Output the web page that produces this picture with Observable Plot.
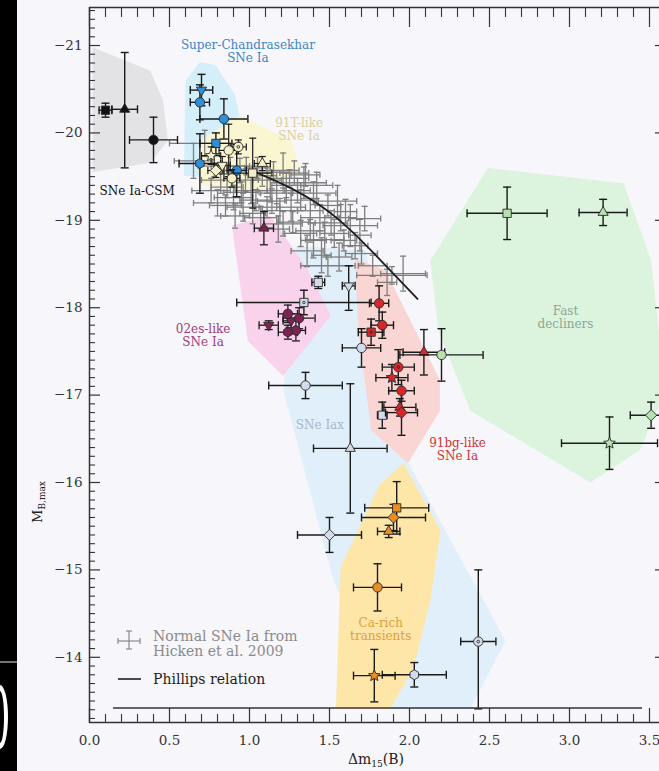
<!DOCTYPE html>
<html><head><meta charset="utf-8">
<script src="https://cdn.jsdelivr.net/npm/d3@7"></script>
<script src="https://cdn.jsdelivr.net/npm/@observablehq/plot@0.6"></script>
<style>
html,body{margin:0;padding:0;background:#f7f6fb;overflow:hidden;width:659px;height:771px;}
#chart{position:absolute;left:0;top:0;width:680px;}
#chart svg{max-width:none !important;}
#band{position:absolute;left:0;top:0;width:17px;height:771px;}
</style></head><body>
<div id="chart"></div>
<svg id="band" width="17" height="771"><rect width="17" height="771" fill="#000"/><line x1="0" x2="17" y1="662" y2="662" stroke="#999" stroke-width="1.5"/><ellipse cx="0" cy="717" rx="8" ry="32" fill="#fff"/><ellipse cx="0" cy="717" rx="4" ry="26" fill="#000"/></svg>
<script>
// ---------- data ----------
const xMajor = [0.0, 0.5, 1.0, 1.5, 2.0, 2.5, 3.0, 3.5];
const yMajor = [-21, -20, -19, -18, -17, -16, -15, -14];

const normalIa = [
 {x:1.21,y:-19.57,dx:0.10,dy:0.20},{x:1.34,y:-19.43,dx:0.14,dy:0.18},{x:1.40,y:-19.31,dx:0.14,dy:0.13},
 {x:1.49,y:-19.17,dx:0.08,dy:0.12},{x:1.63,y:-18.94,dx:0.17,dy:0.24},{x:1.57,y:-19.03,dx:0.10,dy:0.15},
 {x:1.69,y:-18.83,dx:0.07,dy:0.18},{x:1.40,y:-18.77,dx:0.08,dy:0.20},{x:1.32,y:-18.85,dx:0.10,dy:0.15},
 {x:1.49,y:-18.48,dx:0.17,dy:0.12},{x:1.77,y:-18.48,dx:0.09,dy:0.12},{x:1.96,y:-18.39,dx:0.14,dy:0.20},
 {x:1.86,y:-18.29,dx:0.06,dy:0.15},{x:1.21,y:-18.96,dx:0.12,dy:0.14},{x:1.11,y:-19.15,dx:0.08,dy:0.12},
 {x:1.01,y:-19.34,dx:0.10,dy:0.15},{x:0.90,y:-19.26,dx:0.12,dy:0.14},{x:0.80,y:-19.20,dx:0.15,dy:0.15},
 {x:0.86,y:-19.38,dx:0.10,dy:0.12},{x:1.11,y:-19.46,dx:0.09,dy:0.15},{x:1.17,y:-19.31,dx:0.10,dy:0.12},
 {x:1.26,y:-19.15,dx:0.09,dy:0.16},{x:1.30,y:-19.34,dx:0.08,dy:0.14},{x:1.44,y:-19.03,dx:0.12,dy:0.15},
 {x:1.53,y:-18.85,dx:0.09,dy:0.16},{x:1.59,y:-18.77,dx:0.08,dy:0.12},{x:1.36,y:-18.65,dx:0.10,dy:0.18},
 {x:1.05,y:-19.60,dx:0.08,dy:0.12},{x:0.94,y:-19.57,dx:0.10,dy:0.14},{x:0.82,y:-19.46,dx:0.12,dy:0.15},
 {x:1.28,y:-19.54,dx:0.09,dy:0.14},{x:1.19,y:-19.11,dx:0.11,dy:0.14},{x:1.07,y:-19.03,dx:0.10,dy:0.13},
 {x:1.38,y:-18.88,dx:0.09,dy:0.13},{x:0.96,y:-19.15,dx:0.10,dy:0.16},{x:0.76,y:-19.34,dx:0.12,dy:0.14},
 {x:0.72,y:-19.88,dx:0.22,dy:0.15},{x:0.65,y:-19.68,dx:0.12,dy:0.20},{x:1.04,y:-19.23,dx:0.10,dy:0.12},
 {x:1.13,y:-19.34,dx:0.08,dy:0.13},{x:1.23,y:-19.40,dx:0.09,dy:0.14},{x:1.32,y:-19.23,dx:0.10,dy:0.12},
 {x:0.91,y:-19.05,dx:0.09,dy:0.14},{x:0.85,y:-19.17,dx:0.10,dy:0.12},{x:1.38,y:-19.11,dx:0.08,dy:0.14},
 {x:1.08,y:-19.51,dx:0.09,dy:0.12},{x:0.975,y:-19.46,dx:0.08,dy:0.13},{x:1.51,y:-18.97,dx:0.10,dy:0.14},
 {x:1.66,y:-18.71,dx:0.08,dy:0.15},{x:1.45,y:-18.60,dx:0.06,dy:0.20},{x:1.89,y:-18.37,dx:0.22,dy:0.10},
 {x:0.98,y:-19.62,dx:0.12,dy:0.10},{x:1.15,y:-19.55,dx:0.10,dy:0.12},{x:1.25,y:-19.48,dx:0.12,dy:0.10},
 {x:1.42,y:-19.40,dx:0.10,dy:0.15},{x:1.55,y:-19.22,dx:0.12,dy:0.18},{x:1.72,y:-19.02,dx:0.10,dy:0.14},
 {x:1.02,y:-19.08,dx:0.08,dy:0.12},{x:0.88,y:-19.62,dx:0.12,dy:0.10},{x:1.18,y:-18.90,dx:0.07,dy:0.15},
 {x:1.47,y:-18.78,dx:0.12,dy:0.20},{x:1.56,y:-18.58,dx:0.08,dy:0.16},{x:1.27,y:-18.98,dx:0.10,dy:0.12},
 {x:1.35,y:-19.52,dx:0.09,dy:0.13},{x:1.60,y:-19.10,dx:0.07,dy:0.14},{x:0.95,y:-19.32,dx:0.11,dy:0.12},
 {x:1.14,y:-19.22,dx:0.09,dy:0.14},{x:1.70,y:-18.62,dx:0.10,dy:0.12},{x:0.78,y:-19.62,dx:0.10,dy:0.12}
];

const phillips = [
 {x:1.00,y:-19.58},{x:1.20,y:-19.42},{x:1.40,y:-19.22},{x:1.60,y:-18.94},{x:1.80,y:-18.58},{x:2.05,y:-18.10}
];

const csmIa = [
 {x:0.10,y:-20.26,dx:0.04,dy:0.08,m:"square"},
 {x:0.22,y:-20.27,dx:0.08,dyu:0.65,dyl:0.67,m:"triangle"},
 {x:0.40,y:-19.92,dx:0.15,dy:0.26,m:"circle"}
];
const superChIa = [
 {x:0.70,y:-20.49,dx:0.07,dy:0.18,m:"tri2"},
 {x:0.69,y:-20.35,dx:0.06,dy:0.20,m:"circle"},
 {x:0.84,y:-20.16,dx:0.15,dy:0.23,m:"circle"},
 {x:0.79,y:-19.88,dx:0.10,dy:0.12,m:"square"},
 {x:0.69,y:-19.65,dx:0.13,dy:0.34,m:"hex"},
 {x:0.92,y:-19.57,dx:0.06,dy:0.30,m:"circle"}
];
const t91Ia = [
 {x:0.93,y:-19.84,dx:0.05,dy:0.08,m:"circledot"},
 {x:1.08,y:-19.65,dx:0.05,dy:0.08,m:"triangle"},
 {x:1.02,y:-19.54,dx:0.12,dy:0.40,m:"square"},
 {x:0.76,y:-19.74,dx:0.06,dy:0.10,m:"star"},
 {x:0.83,y:-19.63,dx:0.05,dy:0.10,m:"tri2"},
 {x:0.87,y:-19.80,dx:0.06,dy:0.30,m:"circle"},
 {x:0.79,y:-19.57,dx:0.05,dy:0.08,m:"diamond"},
 {x:0.89,y:-19.48,dx:0.05,dy:0.10,m:"circle"}
];
const es02Ia = [
 {x:1.09,y:-18.91,dx:0.06,dy:0.19,m:"triangle"},
 {x:1.12,y:-17.80,dx:0.06,dy:0.05,m:"tri2"},
 {x:1.24,y:-17.93,dx:0.06,dy:0.10,m:"circle"},
 {x:1.26,y:-17.85,dx:0.05,dy:0.08,m:"tri2"},
 {x:1.31,y:-17.88,dx:0.10,dy:0.12,m:"circle"},
 {x:1.24,y:-17.72,dx:0.06,dy:0.08,m:"hex"},
 {x:1.29,y:-17.74,dx:0.06,dy:0.12,m:"circle"}
];
const iax = [
 {x:1.34,y:-18.06,dx:0.42,dy:0.14,m:"squaredot"},
 {x:1.43,y:-18.29,dx:0.04,dy:0.07,m:"square"},
 {x:1.62,y:-18.25,dx:0.04,dyu:0.23,dyl:0.28,m:"tri2"},
 {x:1.70,y:-17.54,dx:0.12,dy:0.22,m:"circle"},
 {x:1.35,y:-17.11,dx:0.23,dy:0.15,m:"circle"},
 {x:1.83,y:-16.77,dx:0.03,dy:0.15,m:"square"},
 {x:1.63,y:-16.39,dx:0.23,dy:0.74,m:"triangle"},
 {x:1.50,y:-15.40,dx:0.20,dy:0.20,m:"diamond"},
 {x:2.03,y:-13.80,dx:0.20,dy:0.14,m:"hex"},
 {x:2.43,y:-14.18,dx:0.11,dyu:0.82,dyl:0.77,m:"circledot"}
];
const bg91Ia = [
 {x:1.81,y:-18.05,dx:0.06,dy:0.20,m:"circle"},
 {x:1.83,y:-17.80,dx:0.07,dy:0.15,m:"circle"},
 {x:1.76,y:-17.72,dx:0.08,dy:0.15,m:"squaredot"},
 {x:2.09,y:-17.49,dx:0.13,dy:0.26,m:"triangle"},
 {x:1.93,y:-17.32,dx:0.10,dy:0.20,m:"circledot"},
 {x:1.89,y:-17.20,dx:0.10,dy:0.15,m:"star"},
 {x:1.95,y:-17.05,dx:0.08,dy:0.12,m:"circle"},
 {x:1.94,y:-16.86,dx:0.10,dy:0.10,m:"triangle"},
 {x:1.95,y:-16.80,dx:0.10,dy:0.26,m:"diamond"}
];
const fastDecl = [
 {x:2.20,y:-17.46,dx:0.26,dy:0.30,m:"circle"},
 {x:2.61,y:-19.08,dx:0.25,dy:0.30,m:"square"},
 {x:3.21,y:-19.09,dx:0.15,dy:0.15,m:"triangle"},
 {x:3.25,y:-16.45,dx:0.30,dy:0.30,m:"star"},
 {x:3.51,y:-16.77,dx:0.13,dy:0.15,m:"diamond"}
];
const caRich = [
 {x:1.92,y:-15.71,dx:0.20,dy:0.30,m:"square"},
 {x:1.90,y:-15.60,dx:0.20,dy:0.15,m:"diamond"},
 {x:1.87,y:-15.44,dx:0.07,dy:0.07,m:"triangle"},
 {x:1.80,y:-14.80,dx:0.15,dy:0.27,m:"circle"},
 {x:1.78,y:-13.79,dx:0.13,dy:0.30,m:"star"}
];

// region outlines (x = Δm15, y = M)
const regCSM = [{x:0.02,y:-20.98},{x:0.38,y:-20.71},{x:0.46,y:-20.37},{x:0.49,y:-19.91},{x:0.38,y:-19.66},{x:0.02,y:-19.55}];
const regSuperCh = [{x:0.60,y:-20.60},{x:0.69,y:-20.81},{x:0.79,y:-20.77},{x:0.91,y:-20.43},{x:0.98,y:-19.80},{x:0.88,y:-19.46},{x:0.59,y:-19.51}];
const reg91T = [{x:0.69,y:-19.91},{x:0.94,y:-20.20},{x:1.26,y:-19.91},{x:1.32,y:-19.57},{x:1.07,y:-19.34},{x:0.69,y:-19.40}];
const reg02es = [{x:0.89,y:-18.94},{x:1.13,y:-19.05},{x:1.35,y:-18.48},{x:1.51,y:-17.91},{x:1.21,y:-17.22},{x:0.99,y:-17.62}];
const reg91bg = [{x:1.66,y:-18.56},{x:1.85,y:-18.43},{x:2.19,y:-17.17},{x:2.19,y:-16.82},{x:1.99,y:-16.22},{x:1.76,y:-16.60},{x:1.68,y:-17.74}];
const regIax = [{x:1.29,y:-18.71},{x:1.725,y:-18.655},{x:1.994,y:-16.22},{x:2.60,y:-14.19},{x:2.38,y:-13.41},{x:1.88,y:-13.41},{x:1.525,y:-14.88},{x:1.2125,y:-17.05}];
const regCa = [{x:1.9625,y:-16.22},{x:2.194,y:-15.45},{x:2.13,y:-14.65},{x:2.025,y:-13.88},{x:1.88,y:-13.41},{x:1.54,y:-13.41},{x:1.57,y:-15.03},{x:1.81,y:-15.97}];
const regFast = [{x:2.49,y:-19.60},{x:3.34,y:-19.42},{x:3.51,y:-18.54},{x:3.60,y:-17.05},{x:3.44,y:-16.37},{x:3.13,y:-16.00},{x:2.38,y:-16.82},{x:2.18,y:-17.74},{x:2.13,y:-18.54}];

const regionLabels = [
 {x:0.99,y:-20.935,t:"Super-Chandrasekhar\nSNe Ia",c:"#3a86c8",a:"middle"},
 {x:1.31,y:-20.04,t:"91T-like\nSNe Ia",c:"#d9d09c",a:"middle"},
 {x:0.0625,y:-19.34,t:"SNe Ia-CSM",c:"#111",a:"start"},
 {x:0.71,y:-17.68,t:"02es-like\nSNe Ia",c:"#a03a78",a:"middle"},
 {x:2.975,y:-17.89,t:"Fast\ndecliners",c:"#8aa898",a:"middle"},
 {x:1.44,y:-16.66,t:"SNe Iax",c:"#a9b6ca",a:"middle"},
 {x:2.30,y:-16.38,t:"91bg-like\nSNe Ia",c:"#cc3535",a:"middle"},
 {x:1.82,y:-14.32,t:"Ca-rich\ntransients",c:"#dca040",a:"middle"}
];

// ---------- symbols ----------
const R = s => Math.sqrt(s / Math.PI);
const sym = {
  circle:{draw(c,s){const r=R(s);c.moveTo(r,0);c.arc(0,0,r,0,2*Math.PI);}},
  square:{draw(c,s){const r=R(s)*0.88;c.rect(-r,-r,2*r,2*r);}},
  triangle:{draw(c,s){const r=R(s)*1.25;c.moveTo(0,-r);c.lineTo(r*0.866,r*0.5);c.lineTo(-r*0.866,r*0.5);c.closePath();}},
  tri2:{draw(c,s){const r=R(s)*1.25;c.moveTo(0,r);c.lineTo(r*0.866,-r*0.5);c.lineTo(-r*0.866,-r*0.5);c.closePath();}},
  diamond:{draw(c,s){const r=R(s)*1.2;c.moveTo(0,-r);c.lineTo(r,0);c.lineTo(0,r);c.lineTo(-r,0);c.closePath();}},
  star:{draw(c,s){const r=R(s)*1.3,ri=r*0.45;for(let i=0;i<10;i++){const a=-Math.PI/2+i*Math.PI/5,rr=i%2?ri:r;i?c.lineTo(rr*Math.cos(a),rr*Math.sin(a)):c.moveTo(rr*Math.cos(a),rr*Math.sin(a));}c.closePath();}},
  hex:{draw(c,s){const r=R(s)*1.05;for(let i=0;i<6;i++){const a=Math.PI/6+i*Math.PI/3;i?c.lineTo(r*Math.cos(a),r*Math.sin(a)):c.moveTo(r*Math.cos(a),r*Math.sin(a));}c.closePath();}},
  circledot:{draw(c,s){const r=R(s);c.moveTo(r,0);c.arc(0,0,r,0,2*Math.PI);const q=r*0.28;c.moveTo(q,0);c.arc(0,0,q,0,2*Math.PI);}},
  squaredot:{draw(c,s){const r=R(s)*0.88;c.rect(-r,-r,2*r,2*r);const q=r*0.3;c.moveTo(q,0);c.arc(0,0,q,0,2*Math.PI);}}
};
const hcap = {draw(c,s){const r=R(s);c.moveTo(-r,0);c.lineTo(r,0);}};
const vcap = {draw(c,s){const r=R(s);c.moveTo(0,-r);c.lineTo(0,r);}};

const yUp = d => d.y - (d.dyu ?? d.dy);
const yDn = d => d.y + (d.dyl ?? d.dy);
const xL = d => d.x - d.dx;
const xR = d => d.x + d.dx;

function errMarks(data, color, sw, cap) {
  const o = {stroke: color, strokeWidth: sw};
  return [
    Plot.ruleX(data, {x: "x", y1: yUp, y2: yDn, ...o}),
    Plot.ruleY(data, {y: "y", x1: xL, x2: xR, ...o}),
    Plot.dot(data, {x: "x", y: yUp, symbol: hcap, r: cap, fill: "none", ...o}),
    Plot.dot(data, {x: "x", y: yDn, symbol: hcap, r: cap, fill: "none", ...o}),
    Plot.dot(data, {x: xL, y: "y", symbol: vcap, r: cap, fill: "none", ...o}),
    Plot.dot(data, {x: xR, y: "y", symbol: vcap, r: cap, fill: "none", ...o})
  ];
}
function markers(data, fill) {
  const shapes = [...new Set(data.map(d => d.m))];
  return shapes.map(s => Plot.dot(data.filter(d => d.m === s),
    {x: "x", y: "y", symbol: sym[s], r: 4.7, fill, stroke: "#2a2a2a", strokeWidth: 0.9}));
}
function region(data, fill) {
  return Plot.line(data, {x: "x", y: "y", curve: "linear-closed", fill, stroke: "none"});
}

const W = 680, H = 771, mL = 89, mR = 15, mT = 7, mB = 49;
const FH = H - mT - mB, FW = W - mL - mR;
const xMinor = d3.range(1, 36).map(i => i / 10).filter(v => Math.abs(v * 2 - Math.round(v * 2)) > 1e-6);
const yMinor = d3.range(-214, -132).map(i => i / 10).filter(v => Math.abs(v - Math.round(v)) > 1e-6);

const tickC = "#333";
const plot = Plot.plot({
  width: W, height: H,
  marginLeft: mL, marginRight: mR, marginTop: mT, marginBottom: mB,
  x: {domain: [0, 3.6]},
  y: {domain: [-13.254, -21.435]},
  style: {fontFamily: "'DejaVu Serif', serif", background: "transparent", overflow: "visible", maxWidth: "none"},
  marks: [
    region(regIax, "#e0eff9"),
    region(regFast, "#dcf4de"),
    region(regCa, "#fde6a8"),
    region(regCSM, "#e3e3e6"),
    region(regSuperCh, "#d4eefa"),
    region(reg91T, "#faf6d2"),
    region(reg02es, "#f9d2ec"),
    region(reg91bg, "#f9d5d3"),
    ...errMarks(normalIa, "#7e7e7e", 1.3, 3),
    Plot.line(phillips, {x: "x", y: "y", curve: "natural", stroke: "#1e1e1e", strokeWidth: 1.8}),
    ...errMarks(csmIa, "#1a1a1a", 1.4, 4), ...markers(csmIa, "#111"),
    ...errMarks(superChIa, "#1a1a1a", 1.4, 4), ...markers(superChIa, "#2f8fd6"),
    ...errMarks(t91Ia, "#1a1a1a", 1.2, 3.5), ...markers(t91Ia, "#f3efc6"),
    ...errMarks(es02Ia, "#1a1a1a", 1.3, 4), ...markers(es02Ia, "#7c2352"),
    ...errMarks(iax, "#1a1a1a", 1.4, 4), ...markers(iax, "#d3dbea"),
    ...errMarks(bg91Ia, "#1a1a1a", 1.4, 4), ...markers(bg91Ia, "#d8262a"),
    ...errMarks(fastDecl, "#1a1a1a", 1.4, 4), ...markers(fastDecl, "#b6e2b0"),
    ...errMarks(caRich, "#1a1a1a", 1.4, 4), ...markers(caRich, "#ea8d22"),
    ...regionLabels.map(l => Plot.text([l], {x: "x", y: "y", text: "t", fill: l.c, textAnchor: l.a, fontSize: 12, lineHeight: 1.08})),
    // ticks (inward)
    Plot.ruleX(xMajor, {x: d => d, insetTop: FH - 14, stroke: tickC, strokeWidth: 1.2}),
    Plot.ruleX(xMinor, {x: d => d, insetTop: FH - 8, stroke: tickC, strokeWidth: 1.1}),
    Plot.ruleX(xMajor, {x: d => d, insetBottom: FH - 20, stroke: tickC, strokeWidth: 1.2}),
    Plot.ruleX(xMinor, {x: d => d, insetBottom: FH - 10, stroke: tickC, strokeWidth: 1.1}),
    Plot.ruleY(yMajor, {y: d => d, insetRight: FW - 11, stroke: tickC, strokeWidth: 1.2}),
    Plot.ruleY(yMinor, {y: d => d, insetRight: FW - 6, stroke: tickC, strokeWidth: 1.1}),
    Plot.ruleY(yMajor, {y: d => d, insetLeft: FW - 10, stroke: tickC, strokeWidth: 1.2}),
    Plot.ruleY(yMinor, {y: d => d, insetLeft: FW - 5, stroke: tickC, strokeWidth: 1.1}),
    Plot.frame({stroke: tickC, strokeWidth: 1.5}),
    Plot.axisX(xMajor, {anchor: "bottom", tickSize: 0, tickPadding: 13, tickFormat: d => d.toFixed(1), fontSize: 13.5, fill: "#333", label: null}),
    Plot.axisY(yMajor, {anchor: "left", tickSize: 0, tickPadding: 7, tickFormat: d => "\u2212" + Math.abs(d), fontSize: 13.5, fill: "#333", label: null})
  ]
});
plot.style.maxWidth = "none";
document.getElementById("chart").appendChild(plot);

// ---------- decorations: axis titles, legend ----------
const svg = d3.select(plot);
const FF = "'DejaVu Serif', serif";
svg.append("line").attr("x1", 113).attr("x2", 642).attr("y1", 708).attr("y2", 708).attr("stroke", tickC).attr("stroke-width", 1.3);
const yl = svg.append("text").attr("transform", "translate(42,502) rotate(-90)").attr("text-anchor", "middle").attr("font-size", 13).attr("fill", "#222").attr("font-family", FF);
yl.append("tspan").text("M");
yl.append("tspan").attr("font-size", 9).attr("dy", 3).text("B,max");
const xl = svg.append("text").attr("x", 376).attr("y", 764).attr("text-anchor", "middle").attr("font-size", 14).attr("fill", "#222").attr("font-family", FF);
xl.append("tspan").text("Δm");
xl.append("tspan").attr("font-size", 9).attr("dy", 3).text("15");
xl.append("tspan").attr("dy", -3).text("(B)");
// legend
const lg = svg.append("g").attr("stroke", "#8a8a8a").attr("stroke-width", 1.2);
lg.append("line").attr("x1", 129).attr("x2", 129).attr("y1", 631).attr("y2", 649);
lg.append("line").attr("x1", 118).attr("x2", 140).attr("y1", 641).attr("y2", 641);
lg.append("line").attr("x1", 126).attr("x2", 132).attr("y1", 631).attr("y2", 631);
lg.append("line").attr("x1", 126).attr("x2", 132).attr("y1", 649).attr("y2", 649);
lg.append("line").attr("x1", 118).attr("x2", 118).attr("y1", 638).attr("y2", 644);
lg.append("line").attr("x1", 140).attr("x2", 140).attr("y1", 638).attr("y2", 644);
svg.append("line").attr("x1", 118).attr("x2", 141).attr("y1", 679).attr("y2", 679).attr("stroke", "#1e1e1e").attr("stroke-width", 1.6);
const lt = (t, y, c) => svg.append("text").attr("x", 153).attr("y", y).attr("text-anchor", "start").attr("font-size", 14).attr("fill", c).attr("font-family", FF).text(t);
lt("Normal SNe Ia from", 641, "#8a8a8a");
lt("Hicken et al. 2009", 656, "#8a8a8a");
lt("Phillips relation", 684, "#1e1e1e");
</script></body></html>
